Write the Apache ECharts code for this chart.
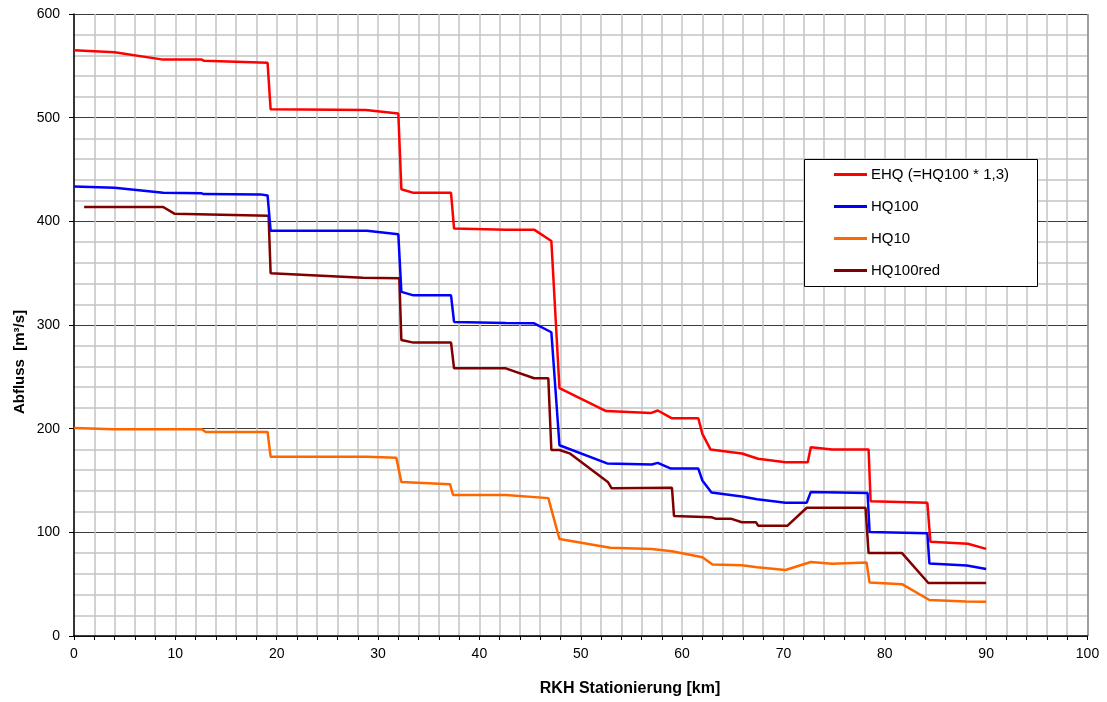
<!DOCTYPE html>
<html>
<head>
<meta charset="utf-8">
<style>
  html, body { margin: 0; padding: 0; background: #ffffff; }
  #chart { width: 1107px; height: 702px; }
</style>
<script src="https://cdn.jsdelivr.net/npm/echarts@6/dist/echarts.min.js"></script>
</head>
<body>
<div id="chart"></div>
<script>
// Discharge profiles along the river station (km), [km, m³/s]
const ehq = [
  [0, 565], [4.0, 563], [8.8, 556], [12.6, 556], [12.8, 555], [19.1, 553], [19.4, 508],
  [28.8, 507.5], [32.0, 504], [32.3, 431], [33.5, 427.5], [37.2, 427.5], [37.5, 393],
  [42.6, 392], [45.4, 392], [47.1, 381], [47.9, 239], [52.5, 217], [56.9, 215],
  [57.6, 217.5], [59.0, 210], [61.6, 210], [62.0, 195], [62.8, 180], [65.9, 176],
  [67.5, 171], [70.2, 167.5], [72.4, 167.5], [72.7, 182], [74.8, 180], [78.4, 180],
  [78.6, 130], [84.2, 128.5], [84.5, 91], [88.2, 89], [90.0, 84]
];
const hq100 = [
  [0, 433.5], [4.0, 432.5], [8.8, 427.5], [12.6, 427], [12.8, 426.3], [18.4, 426],
  [19.1, 425], [19.4, 391], [28.9, 391], [32.0, 387.5], [32.3, 332], [33.5, 328.6],
  [37.2, 328.6], [37.5, 303], [42.6, 302], [45.4, 301.6], [47.1, 293], [47.9, 184],
  [52.6, 166.5], [57.0, 165.5], [57.6, 167], [58.9, 161.5], [61.6, 161.5], [62.0, 150],
  [62.9, 138.5], [65.9, 134.5], [67.4, 132], [70.2, 128.6], [72.3, 128.6], [72.7, 139],
  [78.3, 138], [78.5, 100.3], [84.2, 99], [84.4, 70], [88.1, 68], [90.0, 64.6]
];
const hq10 = [
  [0, 200.6], [3.9, 199.4], [12.6, 199.4], [13.0, 196.8], [19.1, 196.8], [19.4, 173],
  [28.9, 173], [31.8, 172], [32.3, 148.5], [37.1, 146.5], [37.4, 136], [42.6, 136],
  [46.8, 133], [47.9, 93.6], [52.9, 85.2], [57.0, 84], [59.0, 81.7], [62.0, 76],
  [63.0, 69], [65.9, 68.2], [67.4, 66.3], [70.2, 63.7], [72.7, 71.4], [74.8, 69.8],
  [78.2, 71], [78.5, 51.5], [81.7, 50], [84.4, 34.7], [88.0, 33.2], [90.0, 33.1]
];
const hq100red = [
  [1.0, 413.8], [8.8, 413.8], [9.9, 407.4], [19.2, 405.4], [19.4, 350], [28.5, 345.5],
  [32.1, 345], [32.3, 285.5], [33.5, 283], [37.2, 283], [37.5, 258.2], [42.6, 258.2],
  [45.4, 248.6], [46.8, 248.6], [47.1, 179.4], [47.9, 179.4], [48.9, 176.2], [52.7, 148.3],
  [53.05, 142.5], [59.0, 143], [59.2, 115.8], [62.9, 114.5], [63.3, 113.2], [64.8, 113.2],
  [65.9, 109.7], [67.3, 109.7], [67.5, 106.4], [70.4, 106.4], [72.3, 123.7], [78.1, 123.7],
  [78.4, 80], [81.7, 80], [84.3, 51.1], [90.0, 51.1]
];

const seriesNames = ['EHQ (=HQ100 * 1,3)', 'HQ100', 'HQ10', 'HQ100red'];
const seriesColors = ['#ff0000', '#0000ff', '#ff6600', '#800000'];
const seriesData = [ehq, hq100, hq10, hq100red];

const xTitle = 'RKH Stationierung [km]';
const yTitle = 'Abfluss  [m³/s]';

const FONT = '"Liberation Sans", Arial, sans-serif';
const GRID = { left: 74, right: 19.5, top: 14, bottom: 66 };

// vertical split lines: light grey, the right edge (100 km) slightly darker
const xSplitColors = Array(10).fill('#c4c4c4').concat(['#808080']);

const chart = echarts.init(document.getElementById('chart'), null, { renderer: 'canvas' });

chart.setOption({
  animation: false,
  backgroundColor: '#ffffff',
  textStyle: { fontFamily: FONT },
  grid: GRID,
  xAxis: {
    type: 'value', min: 0, max: 100, interval: 10,
    axisLine: { show: true, onZero: false, lineStyle: { color: '#000000', width: 1.5 } },
    axisTick: { show: true, length: 4, lineStyle: { color: '#000000', width: 1 } },
    minorTick: { show: true, splitNumber: 5, length: 4, lineStyle: { color: '#000000', width: 1 } },
    axisLabel: { color: '#000000', fontSize: 14, fontFamily: FONT, margin: 11 },
    splitLine: { show: true, lineStyle: { color: xSplitColors, width: 1.5 } },
    minorSplitLine: { show: true, lineStyle: { color: '#c4c4c4', width: 1.5 } }
  },
  yAxis: {
    type: 'value', min: 0, max: 600, interval: 100,
    axisLine: { show: true, onZero: false, lineStyle: { color: '#000000', width: 1.5 } },
    axisTick: { show: true, length: 5, lineStyle: { color: '#000000', width: 1 } },
    minorTick: { show: false },
    axisLabel: { color: '#000000', fontSize: 14, fontFamily: FONT, margin: 14 },
    splitLine: { show: true, lineStyle: { color: '#3c3c3c', width: 1.2 } },
    minorSplitLine: { show: true, lineStyle: { color: '#c4c4c4', width: 1.5 } }
  },
  legend: {
    orient: 'vertical',
    left: 834, top: 167,
    padding: 0,
    icon: 'rect',
    itemWidth: 33, itemHeight: 3,
    itemGap: 17,
    z: 100,
    textStyle: { color: '#000000', fontSize: 15, fontFamily: FONT, padding: [0, 0, 0, -1] },
    data: seriesNames
  },
  graphic: [
    {
      type: 'rect', z: 50,
      shape: { x: 804.5, y: 159.5, width: 233, height: 127 },
      style: { fill: '#ffffff', stroke: '#000000', lineWidth: 1 }
    },
    {
      type: 'text', z: 50,
      style: {
        x: 630, y: 689, text: xTitle,
        font: 'bold 16px ' + FONT, fill: '#000000',
        textAlign: 'center', textVerticalAlign: 'middle'
      }
    },
    {
      type: 'text', z: 50,
      x: 20, y: 362, rotation: Math.PI / 2,
      style: {
        x: 0, y: 0, text: yTitle,
        font: 'bold 15px ' + FONT, fill: '#000000',
        textAlign: 'center', textVerticalAlign: 'middle'
      }
    }
  ],
  series: seriesData.map((d, i) => ({
    name: seriesNames[i],
    type: 'line',
    data: d,
    showSymbol: false,
    symbol: 'none',
    color: seriesColors[i],
    lineStyle: { color: seriesColors[i], width: 2.5 },
    z: 10 - i
  }))
});
</script>
</body>
</html>
